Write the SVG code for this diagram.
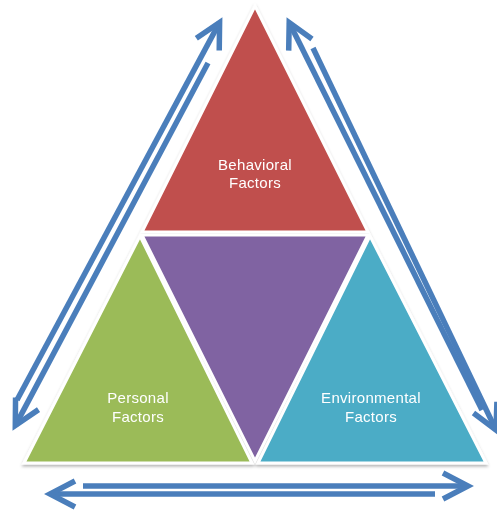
<svg xmlns="http://www.w3.org/2000/svg" width="497" height="510" viewBox="0 0 497 510">
  <style>
    .tri { stroke: #ffffff; stroke-width: 3; stroke-linejoin: miter; }
    .lbl { font-family: "Liberation Sans", Arial, sans-serif; font-size: 15px; fill: #ffffff; text-anchor: middle; letter-spacing: 0.3px; }
    .conn { fill: none; stroke: #4a7ebb; stroke-width: 5.5; marker-end: url(#chev); }
  </style>
  <defs>
    <marker id="chev" markerUnits="userSpaceOnUse" viewBox="-32 -18 40 36" refX="0" refY="0" markerWidth="40" markerHeight="36" orient="auto" overflow="visible">
      <path d="M-25,-13 L0,0 L-25,13" fill="none" stroke="#4a7ebb" stroke-width="5.5" stroke-linejoin="miter"/>
    </marker>
    <filter id="shadow" x="-10%" y="-10%" width="120%" height="120%">
      <feDropShadow dx="0" dy="2" stdDeviation="1.5" flood-color="#000" flood-opacity="0.3"/>
    </filter>
  </defs>
  <rect x="0" y="0" width="497" height="510" fill="#ffffff"/>
  <g filter="url(#shadow)">
    <g id="behavioral">
      <polygon class="tri" points="255,6 142,232 368,232" fill="#c0504d"/>
      <text class="lbl" x="255" y="170">Behavioral</text>
      <text class="lbl" x="255" y="188">Factors</text>
    </g>
    <g id="center">
      <polygon class="tri" points="142,235 368,235 255,461" fill="#8064a2"/>
    </g>
    <g id="personal">
      <polygon class="tri" points="140,236 24,463 252,463" fill="#9bbb59"/>
      <text class="lbl" x="138" y="403">Personal</text>
      <text class="lbl" x="138" y="422">Factors</text>
    </g>
    <g id="environmental">
      <polygon class="tri" points="370,236 258,463 486,463" fill="#4bacc6"/>
      <text class="lbl" x="371" y="403">Environmental</text>
      <text class="lbl" x="371" y="422">Factors</text>
    </g>
  </g>
  <g id="connectors">
    <line class="conn" x1="17" y1="400" x2="219.6" y2="22.4"/>
    <line class="conn" x1="208" y1="63" x2="15.3" y2="425.6"/>
    <line class="conn" x1="482" y1="410" x2="289.2" y2="22.5"/>
    <line class="conn" x1="313" y1="48" x2="496" y2="430"/>
    <line class="conn" x1="83" y1="486" x2="468" y2="486"/>
    <line class="conn" x1="435" y1="494" x2="50" y2="494"/>
  </g>
</svg>
